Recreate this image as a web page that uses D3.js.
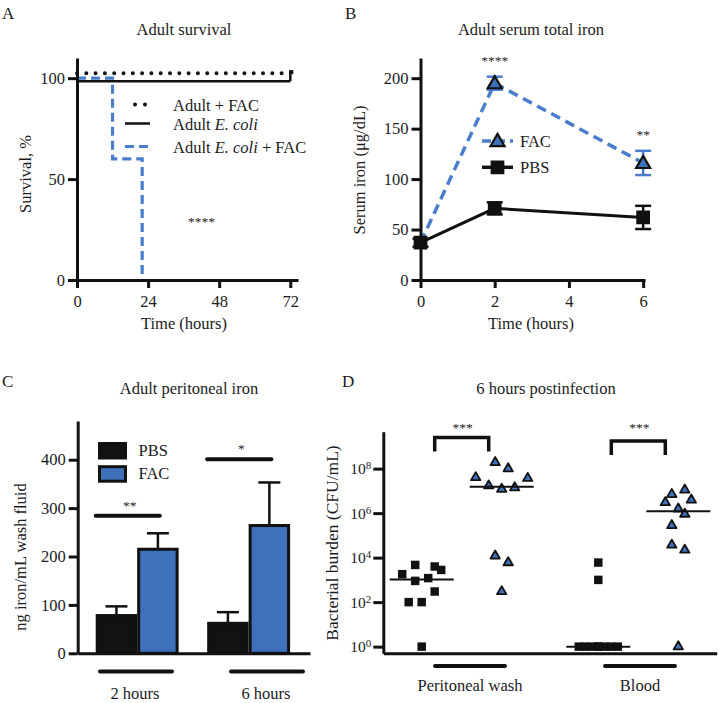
<!DOCTYPE html>
<html><head><meta charset="utf-8">
<script src="https://cdn.jsdelivr.net/npm/d3@7"></script>
<style>
body{margin:0;background:#fff}
svg, svg text, svg tspan{font-family:'Liberation Serif','DejaVu Serif',serif !important;}
svg text{fill:#1c1c1c}
</style></head><body>
<svg id="chart" width="719" height="703" font-family="Liberation Serif, serif"></svg>
<script>
// ---------- Panel A: Adult survival ----------
const survSeriesNames = ["Adult + FAC", "Adult E. coli", "Adult E. coli + FAC"];
const survFacTimes = [0, 72];
const survFac = [100, 100];
const survEcoliTimes = [0, 72];
const survEcoli = [100, 100];
const survEcoliFacTimes = [0, 12, 22];
const survEcoliFac = [100, 60, 0];
const survXTicks = [0, 24, 48, 72];
const survYTicks = [0, 50, 100];

// ---------- Panel B: Adult serum total iron ----------
const ironTimes = [0, 2, 6];
const ironFAC = [37, 195, 116];
const ironFACerr = [3, 6.5, 12];
const ironPBS = [37, 71, 62];
const ironPBSerr = [4, 6, 11.5];
const ironSig = ["", "****", "**"];
const ironXTicks = [0, 2, 4, 6];
const ironYTicks = [0, 50, 100, 150, 200];

// ---------- Panel C: Adult peritoneal iron ----------
const periGroups = ["2 hours", "6 hours"];
const periTreat = ["PBS", "FAC"];
const periPBS = [78, 62];
const periPBSerr = [19, 23];
const periFAC = [215, 264];
const periFACerr = [33, 89];
const periSig = ["**", "*"];
const periSigLevel = [284, 401];
const periYTicks = [0, 100, 200, 300, 400];

// ---------- Panel D: 6 hours postinfection ----------
const burdenSites = ["Peritoneal wash", "Blood"];
const pwPBS = [1800, 4700, 900, 1200, 4000, 2800, 300, 100, 100, 1];
const pwPBSslot = [-3, -1, -1, 1, 2, 3, 2, -2, 0, 0];
const pwFAC = [1.9e8, 1.0e8, 4.0e7, 3.7e7, 1.7e7, 1.2e7, 1.4e7, 1.2e4, 6000, 300];
const pwFACslot = [-1, 1, -4, 4, -2, 0, 2, -1, 1, 0];
const blPBS = [6000, 1000, 1, 1, 1, 1, 1, 1, 1, 1];
const blPBSslot = [0, 0, -3, -2, -1, 0, 1, 2, 3, 0];
const blFAC = [7.0e6, 1.1e7, 3.0e6, 3.9e6, 1.55e6, 9.1e5, 2.8e5, 3.7e4, 2.2e4, 1];
const blFACslot = [-1, 1, -2, 2, 0, 1, -1, -1, 1, 0];
const burdenSig = ["***", "***"];
const burdenSigLevel = [2.5e9, 1.75e9];
const burdenYTicks = [1, 1e2, 1e4, 1e6, 1e8];

// ---------- styles ----------
const FONT = "Liberation Serif, DejaVu Serif, serif";
const BLUE_LINE = "#4a7ecb";
const BLUE_FILL = "#3d72bb";
const INK = "#111";
const FS = 16.5;

const svg = d3.select("#chart");

function styleAxis(g) {
  g.attr("font-family", FONT).attr("font-size", FS);
  g.select(".domain").attr("stroke", INK).attr("stroke-width", 3);
  g.selectAll(".tick line").attr("stroke", INK).attr("stroke-width", 3);
  g.selectAll(".tick text").attr("font-size", FS).attr("font-family", FONT).attr("fill", "#1c1c1c");
}
function txt(x, y, s, opts = {}) {
  return svg.append("text").attr("x", x).attr("y", y)
    .attr("text-anchor", opts.anchor || "middle")
    .attr("font-family", FONT)
    .attr("font-size", opts.size || FS)
    .attr("fill", opts.fill || "#1c1c1c")
    .text(s);
}
function yLabel(x, y, s, size) {
  svg.append("text").attr("transform", `translate(${x},${y}) rotate(-90)`)
    .attr("font-family", FONT)
    .attr("text-anchor", "middle").attr("font-size", size || FS).text(s);
}
function stars(x, y, s) {
  txt(x, y, s, {size: 13.5, fill: "#333"});
}

// panel letters
txt(2, 18.5, "A", {anchor: "start", size: 17});
txt(345, 18.5, "B", {anchor: "start", size: 17});
txt(2, 387, "C", {anchor: "start", size: 17});
txt(342, 387, "D", {anchor: "start", size: 17});

// =============== Panel A ===============
{
  const x = d3.scaleLinear().domain([0, 74.6]).range([77, 298]);
  const y = d3.scaleLinear().domain([0, 110]).range([280, 58]);
  txt(184, 35, "Adult survival");
  yLabel(30.5, 174, "Survival, %");
  txt(184, 329, "Time (hours)");

  const line = d3.line().x(d => x(d[0])).y(d => y(d[1])).curve(d3.curveStepAfter);

  const ec = survEcoliTimes.map((t, i) => [t, survEcoli[i]]);
  svg.append("path").attr("d", line(ec)).attr("transform", "translate(0,3)")
    .attr("fill", "none").attr("stroke", INK).attr("stroke-width", 2.5);
  svg.append("line").attr("x1", x(72)).attr("x2", x(72))
    .attr("y1", y(100) + 3).attr("y2", y(100) - 8)
    .attr("stroke", INK).attr("stroke-width", 2.5);

  const fc = survFacTimes.map((t, i) => [t, survFac[i]]);
  svg.append("path").attr("d", line(fc)).attr("transform", "translate(0,-5)")
    .attr("fill", "none").attr("stroke", INK).attr("stroke-width", 4)
    .attr("stroke-linecap", "round").attr("stroke-dasharray", "0 9.3");
  svg.append("rect").attr("x", x(72) - 1).attr("y", y(100) - 8)
    .attr("width", 4).attr("height", 4).attr("fill", INK);

  const ef = survEcoliFacTimes.map((t, i) => [t, survEcoliFac[i]]);
  svg.append("path").attr("d", line(ef))
    .attr("fill", "none").attr("stroke", BLUE_LINE).attr("stroke-width", 3.2)
    .attr("stroke-dasharray", "9 5");

  const gx = svg.append("g").attr("transform", `translate(0,${y(0)})`)
    .call(d3.axisBottom(x).tickValues(survXTicks).tickFormat(d3.format("d")).tickSize(8).tickSizeOuter(0).tickPadding(7));
  styleAxis(gx);
  const gy = svg.append("g").attr("transform", `translate(${x(0)},0)`)
    .call(d3.axisLeft(y).tickValues(survYTicks).tickFormat(d3.format("d")).tickSize(9).tickSizeOuter(0).tickPadding(3));
  styleAxis(gy);

  stars(201.5, 226, "****");

  const lg = [
    {y: 104.5, dash: "0 10", w: 4, c: INK, cap: "round", x1: 135, x2: 155},
    {y: 123.5, dash: null, w: 2.5, c: INK, cap: "butt", x1: 125, x2: 150},
    {y: 146.5, dash: "9 5", w: 3.2, c: BLUE_LINE, cap: "butt", x1: 125, x2: 153}
  ];
  lg.forEach((d, i) => {
    svg.append("line").attr("x1", d.x1).attr("x2", d.x2).attr("y1", d.y).attr("y2", d.y)
      .attr("stroke", d.c).attr("stroke-width", d.w).attr("stroke-linecap", d.cap)
      .attr("stroke-dasharray", d.dash);
    const t = svg.append("text").attr("x", 173).attr("y", d.y + 6)
      .attr("font-family", FONT).attr("font-size", FS);
    const name = survSeriesNames[i];
    if (name.includes("E. coli")) {
      const parts = name.split("E. coli");
      t.append("tspan").text(parts[0]);
      t.append("tspan").attr("font-style", "italic").text("E. coli");
      if (parts[1]) t.append("tspan").text(parts[1]);
    } else t.text(name);
  });
}

// =============== Panel B ===============
{
  const x = d3.scaleLinear().domain([0, 6.05]).range([420.5, 645]);
  const y = d3.scaleLinear().domain([0, 220]).range([280, 58]);
  txt(531, 35, "Adult serum total iron");
  yLabel(365, 170, "Serum iron (μg/dL)");
  txt(531, 329, "Time (hours)");

  const tri = d3.symbol().type(d3.symbolTriangle).size(85);
  const sq = d3.symbol().type(d3.symbolSquare).size(150);

  const fac = ironTimes.map((t, i) => ({t, v: ironFAC[i], e: ironFACerr[i], hidden: Math.abs(ironFAC[i] - ironPBS[i]) < 3}));
  svg.append("path").attr("d", d3.line().x(d => x(d.t)).y(d => y(d.v))(fac))
    .attr("fill", "none").attr("stroke", BLUE_LINE).attr("stroke-width", 3.5)
    .attr("stroke-dasharray", "10 6");
  fac.forEach(d => {
    if (d.hidden) return; // fully covered by the PBS marker in the original
    const g = svg.append("g").attr("stroke", BLUE_LINE).attr("stroke-width", 2.5);
    g.append("line").attr("x1", x(d.t)).attr("x2", x(d.t)).attr("y1", y(d.v - d.e)).attr("y2", y(d.v + d.e));
    [d.v - d.e, d.v + d.e].forEach(v => g.append("line").attr("x1", x(d.t) - 8).attr("x2", x(d.t) + 8).attr("y1", y(v)).attr("y2", y(v)));
    svg.append("path").attr("d", tri).attr("transform", `translate(${x(d.t)},${y(d.v) + 1})`)
      .attr("fill", BLUE_FILL).attr("stroke", INK).attr("stroke-width", 2.2);
  });

  const pbs = ironTimes.map((t, i) => ({t, v: ironPBS[i], e: ironPBSerr[i]}));
  svg.append("path").attr("d", d3.line().x(d => x(d.t)).y(d => y(d.v))(pbs))
    .attr("fill", "none").attr("stroke", INK).attr("stroke-width", 3);
  pbs.forEach(d => {
    const g = svg.append("g").attr("stroke", INK).attr("stroke-width", 2.5);
    g.append("line").attr("x1", x(d.t)).attr("x2", x(d.t)).attr("y1", y(d.v - d.e)).attr("y2", y(d.v + d.e));
    [d.v - d.e, d.v + d.e].forEach(v => g.append("line").attr("x1", x(d.t) - 8).attr("x2", x(d.t) + 8).attr("y1", y(v)).attr("y2", y(v)));
    svg.append("path").attr("d", sq).attr("transform", `translate(${x(d.t)},${y(d.v)})`).attr("fill", INK)
      .attr("stroke", INK).attr("stroke-width", 1.5);
  });

  const gx = svg.append("g").attr("transform", `translate(0,${y(0)})`)
    .call(d3.axisBottom(x).tickValues(ironXTicks).tickFormat(d3.format("d")).tickSize(8).tickSizeOuter(0).tickPadding(7));
  styleAxis(gx);
  const gy = svg.append("g").attr("transform", `translate(${x(0)},0)`)
    .call(d3.axisLeft(y).tickValues(ironYTicks).tickFormat(d3.format("d")).tickSize(9).tickSizeOuter(0).tickPadding(3));
  styleAxis(gy);

  ironSig.forEach((s, i) => {
    if (s) stars(x(ironTimes[i]), y(ironFAC[i] + ironFACerr[i]) - 12, s);
  });

  [{n: "FAC", y: 141, c: BLUE_LINE, dash: "9 5", sym: tri, fill: BLUE_FILL},
   {n: "PBS", y: 167.3, c: INK, dash: null, sym: sq, fill: INK}].forEach(d => {
    svg.append("line").attr("x1", 482).attr("x2", 513).attr("y1", d.y).attr("y2", d.y)
      .attr("stroke", d.c).attr("stroke-width", 3.5).attr("stroke-dasharray", d.dash);
    svg.append("path").attr("d", d.sym).attr("transform", `translate(497.5,${d.y + (d.n === "FAC" ? 1 : 0)})`)
      .attr("fill", d.fill).attr("stroke", INK).attr("stroke-width", d.n === "FAC" ? 2.2 : 1.5);
    txt(520, d.y + 5.5, d.n, {anchor: "start"});
  });
}

// =============== Panel C ===============
{
  const x = d3.scaleBand().domain(periGroups).range([77.7, 310])
    .paddingInner(0.256).paddingOuter(0.17).align(0.475);
  const xi = d3.scaleBand().domain(periTreat).range([0, x.bandwidth()]);
  const xl = d3.scalePoint().domain(periGroups).range([136, 267]);
  const y = d3.scaleLinear().domain([0, 480]).range([653.3, 421]);
  txt(189, 394, "Adult peritoneal iron");
  yLabel(26, 557, "ng iron/mL wash fluid");

  const rows = periGroups.map((g, i) => [
    {g, t: "PBS", v: periPBS[i], e: periPBSerr[i], fill: "#121210"},
    {g, t: "FAC", v: periFAC[i], e: periFACerr[i], fill: BLUE_FILL}
  ]).flat();

  rows.forEach(d => {
    const bx = x(d.g) + xi(d.t), bw = xi.bandwidth();
    const cx = bx + bw / 2;
    svg.append("line").attr("x1", cx).attr("x2", cx).attr("y1", y(d.v)).attr("y2", y(d.v + d.e))
      .attr("stroke", INK).attr("stroke-width", 2.5);
    svg.append("line").attr("x1", cx - 11).attr("x2", cx + 11).attr("y1", y(d.v + d.e)).attr("y2", y(d.v + d.e))
      .attr("stroke", INK).attr("stroke-width", 2.5);
    svg.append("rect").attr("x", bx + 1.5).attr("y", y(d.v))
      .attr("width", bw - 3).attr("height", y(0) - y(d.v))
      .attr("fill", d.fill).attr("stroke", INK).attr("stroke-width", 3);
  });

  const gx = svg.append("g").attr("transform", `translate(0,${y(0)})`)
    .call(d3.axisBottom(x).tickValues([]).tickSizeOuter(0));
  styleAxis(gx);
  const gy = svg.append("g").attr("transform", `translate(${x.range()[0]},0)`)
    .call(d3.axisLeft(y).tickValues(periYTicks).tickFormat(d3.format("d")).tickSize(9).tickSizeOuter(0).tickPadding(3));
  styleAxis(gy);

  periGroups.forEach((g, i) => {
    const x1 = x(g), x2 = x(g) + xi("FAC") + xi.bandwidth() / 2 + 2;
    svg.append("line").attr("x1", x1).attr("x2", x2).attr("y1", y(periSigLevel[i])).attr("y2", y(periSigLevel[i]))
      .attr("stroke", INK).attr("stroke-width", 4).attr("stroke-linecap", "round");
    stars((x1 + x2) / 2 + 2, y(periSigLevel[i]) - 6, periSig[i]);
  });

  periGroups.forEach(g => {
    svg.append("line").attr("x1", xl(g) - 36).attr("x2", xl(g) + 36).attr("y1", 671.5).attr("y2", 671.5)
      .attr("stroke", INK).attr("stroke-width", 4).attr("stroke-linecap", "round");
    txt(xl(g) - 1, 698.5, g);
  });

  [{n: "PBS", y: 443.5, fill: "#121210"}, {n: "FAC", y: 466.7, fill: BLUE_FILL}].forEach(d => {
    svg.append("rect").attr("x", 99.5).attr("y", d.y).attr("width", 26).attr("height", 14.5)
      .attr("fill", d.fill).attr("stroke", INK).attr("stroke-width", 3);
    txt(138.5, d.y + 12.5, d.n, {anchor: "start"});
  });
}

// =============== Panel D ===============
{
  const y = d3.scaleLog().domain([Math.pow(10, -0.3), Math.pow(10, 9.66)]).range([653.3, 431.7]);
  const xs = d3.scalePoint().domain(burdenSites).range([461.7, 638.3]);
  const xt = d3.scalePoint().domain(["PBS", "FAC"]).range([-40, 40]);
  const xl = d3.scalePoint().domain(burdenSites).range([470, 640]);
  const SLOT = 6.5;
  txt(546, 394, "6 hours postinfection");
  yLabel(338, 543, "Bacterial burden (CFU/mL)", 17.5);

  const groups = [
    {site: "Peritoneal wash", t: "PBS", vals: pwPBS, slots: pwPBSslot},
    {site: "Peritoneal wash", t: "FAC", vals: pwFAC, slots: pwFACslot},
    {site: "Blood", t: "PBS", vals: blPBS, slots: blPBSslot},
    {site: "Blood", t: "FAC", vals: blFAC, slots: blFACslot}
  ];
  const sq = d3.symbol().type(d3.symbolSquare).size(72);
  const tri = d3.symbol().type(d3.symbolTriangle).size(38);

  groups.forEach(gr => {
    const cx = xs(gr.site) + xt(gr.t);
    gr.vals.forEach((v, i) => {
      const px = cx + gr.slots[i] * SLOT;
      if (gr.t === "PBS")
        svg.append("path").attr("d", sq).attr("transform", `translate(${px},${y(v)})`).attr("fill", INK);
      else
        svg.append("path").attr("d", tri).attr("transform", `translate(${px},${y(v)})`)
          .attr("fill", BLUE_FILL).attr("stroke", INK).attr("stroke-width", 1.8).attr("stroke-linejoin", "round");
    });
    const med = d3.median(gr.vals);
    svg.append("line").attr("x1", cx - 32).attr("x2", cx + 32).attr("y1", y(med)).attr("y2", y(med))
      .attr("stroke", INK).attr("stroke-width", 2);
  });

  const gx = svg.append("g").attr("transform", `translate(0,653.3)`)
    .call(d3.axisBottom(d3.scaleLinear().range([383.3, 716.7])).tickValues([]).tickSizeOuter(0));
  styleAxis(gx);
  const gy = svg.append("g").attr("transform", `translate(383.3,0)`)
    .call(d3.axisLeft(y).tickValues(burdenYTicks).tickSize(10).tickSizeOuter(0).tickPadding(2));
  styleAxis(gy);
  gy.selectAll(".tick text").each(function(d) {
    const t = d3.select(this);
    t.text(null).attr("font-size", 15.5);
    t.append("tspan").text("10");
    t.append("tspan").attr("dy", "-0.45em").attr("font-size", 11).text(Math.round(Math.log10(d)));
  });

  burdenSites.forEach((s, i) => {
    const yy = y(burdenSigLevel[i]);
    const x1 = xs(s) - 27, x2 = xs(s) + 27;
    svg.append("path").attr("d", `M${x1},${yy + 14}V${yy}H${x2}V${yy + 14}`)
      .attr("fill", "none").attr("stroke", INK).attr("stroke-width", 3.5);
    stars(xs(s) + 1, 432, burdenSig[i]);
  });

  burdenSites.forEach(s => {
    svg.append("line").attr("x1", xl(s) - 35).attr("x2", xl(s) + 35).attr("y1", 666).attr("y2", 666)
      .attr("stroke", INK).attr("stroke-width", 4).attr("stroke-linecap", "round");
    txt(xl(s), 690.5, s);
  });
}
</script>
</body></html>
